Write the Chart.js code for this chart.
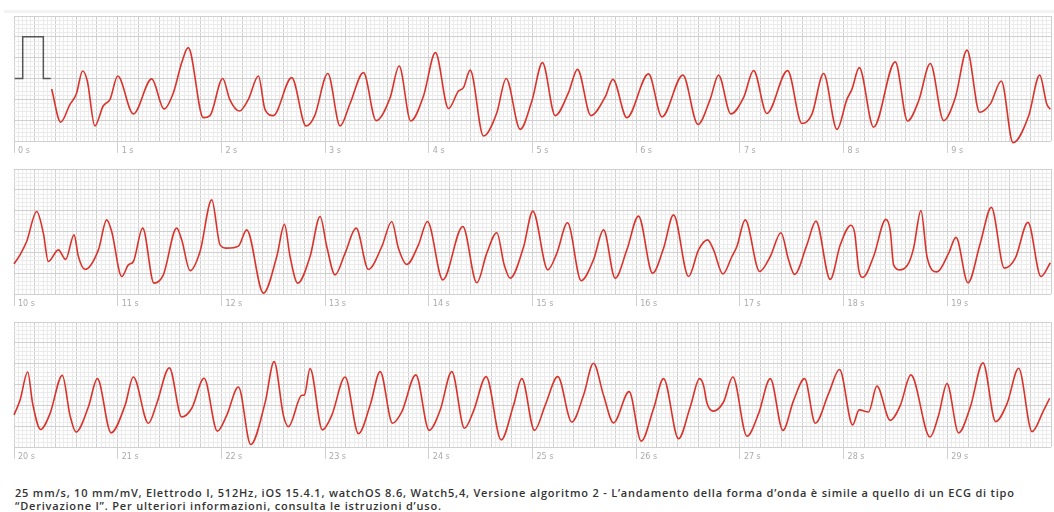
<!DOCTYPE html>
<html lang="it">
<head>
<meta charset="UTF-8">
<title>ECG</title>
<style>
  html, body { margin: 0; padding: 0; background: #fff; }
  body { width: 1054px; height: 512px; position: relative; overflow: hidden; font-family: "Open Sans", "Liberation Sans", Arial, sans-serif; }
  .band { position: absolute; left: 4px; top: 10px; width: 1050px; height: 3px; background: #f3f3f3; }
  .strip { position: absolute; left: 0; width: 1054px; height: 145px; }
  .note { position: absolute; left: 15px; top: 487px; width: 1035px; font-size: 11px; line-height: 12.5px; font-weight: 600; letter-spacing: 0.8px; color: #333; white-space: nowrap; }
</style>
</head>
<body>
<div class="band"></div>
<div class="strip" style="top:12px"><canvas id="ecg1" width="1054" height="145"></canvas></div>
<div class="strip" style="top:165px"><canvas id="ecg2" width="1054" height="145"></canvas></div>
<div class="strip" style="top:318px"><canvas id="ecg3" width="1054" height="145"></canvas></div>
<div class="note">25 mm/s, 10 mm/mV, Elettrodo I, 512Hz, iOS 15.4.1, watchOS 8.6, Watch5,4, Versione algoritmo 2 - L’andamento della forma d’onda è simile a quello di un ECG di tipo<br>“Derivazione I”. Per ulteriori informazioni, consulta le istruzioni d’uso.</div>

<script src="https://cdn.jsdelivr.net/npm/chart.js@4"></script>
<script>
// seconds per strip
const stripStarts = [0, 10, 20];

// calibration pulse (1 mV)
const calTime = [0.007, 0.084, 0.084, 0.283, 0.283, 0.354];
const calValue = [0, 0, 1, 1, 0, 0];

// strip 1: 0 - 10 s (time s, value mV)
const t1 = [0.363, 0.45, 0.54, 0.60, 0.662, 0.707, 0.78, 0.86, 0.926, 1.00, 1.151, 1.328, 1.447, 1.537, 1.617, 1.68, 1.826, 1.89,
  2.013, 2.08, 2.174, 2.26, 2.357, 2.42, 2.5, 2.678, 2.817, 2.9, 3.026, 3.145, 3.241, 3.37, 3.492, 3.627, 3.714, 3.826, 3.949,
  4.064, 4.19, 4.286, 4.334, 4.399, 4.527, 4.656, 4.746, 4.881, 4.994, 5.096, 5.219, 5.347, 5.434, 5.563, 5.701, 5.775, 5.91,
  6.119, 6.248, 6.45, 6.595, 6.713, 6.794, 6.913, 7.035, 7.132, 7.26, 7.46, 7.598, 7.694, 7.807, 7.936, 8.032, 8.08, 8.151,
  8.289, 8.498, 8.617, 8.723, 8.836, 8.965, 9.077, 9.19, 9.312, 9.415, 9.521, 9.634, 9.784, 9.891, 9.96, 9.994];
const v1 = [-0.25, -1.05, -0.62, -0.38, 0.18, -0.06, -1.14, -0.66, -0.50, 0.06, -0.85, -0.01, -0.73, -0.34, 0.38, 0.74, -0.94, -0.89,
  0.0, -0.5, -0.78, -0.5, 0.06, -0.74, -0.89, 0.02, -1.14, -0.89, 0.12, -1.14, -0.6, 0.14, -1.01, -0.46, 0.30, -1.02, -0.42,
  0.62, -0.72, -0.30, -0.22, 0.20, -1.38, -0.82, 0.0, -1.22, -0.54, 0.38, -0.89, -0.34, 0.22, -0.89, -0.44, -0.02, -0.94,
  0.11, -0.92, 0.08, -1.10, -0.5, 0.08, -0.85, -0.46, 0.19, -0.84, 0.19, -1.08, -0.86, 0.12, -1.22, -0.5, -0.26, 0.26,
  -1.17, 0.40, -1.02, -0.54, 0.36, -1.01, -0.46, 0.68, -0.81, -0.61, -0.06, -1.54, -0.9, 0.08, -0.62, -0.74];

// strip 2: 10 - 20 s
const t2 = [10.0, 10.058, 10.122, 10.219, 10.283, 10.331, 10.428, 10.498, 10.579, 10.621, 10.685, 10.814, 10.894, 10.942, 11.039,
  11.103, 11.151, 11.241, 11.35, 11.44, 11.569, 11.617, 11.698, 11.794, 11.907, 11.987, 12.051, 12.164, 12.244, 12.405, 12.534,
  12.608, 12.662, 12.736, 12.855, 12.952, 13.016, 13.096, 13.193, 13.299, 13.418, 13.547, 13.643, 13.707, 13.788, 13.90, 13.987,
  14.135, 14.328, 14.463, 14.559, 14.656, 14.727, 14.785, 14.913, 15.003, 15.148, 15.235, 15.338, 15.469, 15.588, 15.685, 15.797,
  15.91, 16.022, 16.158, 16.264, 16.36, 16.505, 16.601, 16.688, 16.746, 16.836, 16.923, 16.971, 17.051, 17.19, 17.293, 17.396,
  17.469, 17.527, 17.646, 17.733, 17.871, 17.968, 18.071, 18.107, 18.146, 18.186, 18.289, 18.408, 18.45, 18.482, 18.547, 18.627,
  18.675, 18.746, 18.804, 18.90, 19.013, 19.084, 19.199, 19.318, 19.425, 19.55, 19.656, 19.778, 19.903, 19.994];
const v2 = [-0.78, -0.56, -0.24, 0.48, -0.04, -0.72, -0.44, -0.67, -0.08, -0.60, -0.91, -0.44, 0.28, 0.0, -1.08,
  -0.80, -0.72, 0.08, -1.24, -1.04, 0.08, -0.20, -0.94, -0.48, 0.76, -0.32, -0.40, -0.35, 0.04, -1.48, -0.60,
  0.17, -0.60, -1.24, -0.60, 0.36, -0.36, -1.04, -0.52, 0.08, -0.91, -0.36, 0.24, -0.40, -0.79, -0.32, 0.24,
  -1.16, 0.12, -1.23, -0.52, -0.03, -0.80, -1.12, -0.38, 0.49, -0.92, -0.52, 0.21, -1.18, -0.68, 0.04, -1.12,
  -0.44, 0.37, -1.00, -0.40, 0.40, -1.08, -0.44, -0.20, -0.44, -1.02, -0.60, -0.36, 0.28, -0.96, -0.60, -0.03,
  -0.68, -1.03, -0.32, 0.25, -1.15, -0.32, 0.15, -0.04, -0.92, -1.10, -0.60, 0.29, 0.02, -0.80, -0.92, -0.76,
  -0.40, 0.50, -0.60, -0.97, -0.52, -0.14, -1.23, -0.28, 0.58, -0.88, -0.64, 0.22, -1.08, -0.75];

// strip 3: 20 - 30 s
const t3 = [20.0, 20.058, 20.132, 20.18, 20.257, 20.347, 20.466, 20.54, 20.598, 20.717, 20.804, 20.936, 21.071, 21.151, 21.296,
  21.376, 21.498, 21.617, 21.714, 21.833, 21.961, 22.051, 22.164, 22.283, 22.421, 22.508, 22.598, 22.646, 22.775, 22.80, 22.855,
  22.974, 23.064, 23.193, 23.322, 23.434, 23.531, 23.65, 23.74, 23.875, 24.003, 24.109, 24.222, 24.344, 24.431, 24.553, 24.698,
  24.817, 24.897, 25.019, 25.122, 25.244, 25.379, 25.492, 25.588, 25.685, 25.781, 25.932, 26.048, 26.167, 26.264, 26.408, 26.521,
  26.611, 26.649, 26.682, 26.74, 26.842, 26.932, 27.068, 27.18, 27.293, 27.415, 27.518, 27.624, 27.727, 27.855, 27.961, 28.087,
  28.15, 28.241, 28.321, 28.45, 28.547, 28.649, 28.833, 28.916, 28.997, 29.109, 29.222, 29.344, 29.466, 29.576, 29.688, 29.817,
  29.929, 29.987];
const v3 = [-0.73, -0.38, 0.30, -0.46, -1.08, -0.70, 0.22, -0.74, -1.14, -0.54, 0.14, -1.16, -0.50, 0.18, -0.93,
  -0.46, 0.40, -0.78, -0.57, 0.15, -1.12, -0.74, -0.06, -1.44, -0.44, 0.55, -0.74, -1.01, -0.26, -0.25, 0.38,
  -1.09, -0.74, 0.18, -1.18, -0.50, 0.31, -0.93, -0.65, 0.23, -1.10, -0.62, 0.31, -1.05, -0.64, 0.19, -1.33,
  -0.50, 0.14, -1.10, -0.50, 0.19, -0.90, -0.26, 0.51, -0.26, -0.92, -0.17, -1.36, -0.58, 0.14, -1.30, -0.54,
  0.14, -0.02, -0.44, -0.64, -0.42, 0.18, -1.24, -0.70, 0.14, -1.10, -0.38, 0.14, -0.93, -0.22, 0.36, -0.97,
  -0.61, -0.66, -0.04, -0.86, -0.50, 0.23, -1.26, -0.74, 0.02, -1.16, -0.54, 0.52, -0.89, -0.46, 0.39, -1.13,
  -0.62, -0.33];

const minorColor = '#ebebeb';
const majorColor = '#d0d0d0';
const traceColor = '#d8342c';

function toPoints(ts, vs) {
  return ts.map((t, i) => ({ x: t, y: vs[i] }));
}

function makeStrip(id, start, datasets) {
  new Chart(document.getElementById(id), {
    type: 'line',
    data: { datasets: datasets },
    options: {
      responsive: false,
      animation: false,
      layout: { padding: { left: 14, right: 3, top: 4, bottom: 0 } },
      plugins: { legend: { display: false }, tooltip: { enabled: false } },
      scales: {
        x: {
          type: 'linear',
          min: start,
          max: start + 10,
          afterFit: s => { s.height = 16; },
          border: { display: false },
          grid: {
            color: c => Math.round(c.tick.value * 25) % 5 === 0 ? majorColor : minorColor,
            tickLength: 12,
            tickColor: c => {
              const r = Math.round(c.tick.value * 25);
              return r % 25 === 0 && c.tick.value < start + 10 ? majorColor : 'rgba(0,0,0,0)';
            }
          },
          ticks: {
            stepSize: 0.04,
            autoSkip: false,
            maxRotation: 0,
            minRotation: 0,
            align: 'start',
            labelOffset: 4,
            padding: -7,
            color: '#aaaaaa',
            font: { family: 'DejaVu Sans', size: 8 },
            callback: v => {
              const r = Math.round(v * 25);
              return r % 25 === 0 && v < start + 10 ? (r / 25) + ' s' : '';
            }
          }
        },
        y: {
          min: -1.5,
          max: 1.5,
          afterFit: s => { s.width = 0; },
          border: { display: false },
          grid: {
            drawTicks: false,
            color: c => Math.round(c.tick.value * 10) % 5 === 0 ? majorColor : minorColor
          },
          ticks: { display: false, stepSize: 0.1 }
        }
      }
    }
  });
}

function trace(ts, vs) {
  return {
    data: toPoints(ts, vs),
    borderColor: traceColor,
    borderWidth: 1.6,
    pointRadius: 0,
    cubicInterpolationMode: 'monotone',
    clip: false
  };
}

makeStrip('ecg1', stripStarts[0], [
  { data: toPoints(calTime, calValue), borderColor: '#555', borderWidth: 1.5, pointRadius: 0, tension: 0 },
  trace(t1, v1)
]);
makeStrip('ecg2', stripStarts[1], [trace(t2, v2)]);
makeStrip('ecg3', stripStarts[2], [trace(t3, v3)]);
</script>
</body>
</html>
